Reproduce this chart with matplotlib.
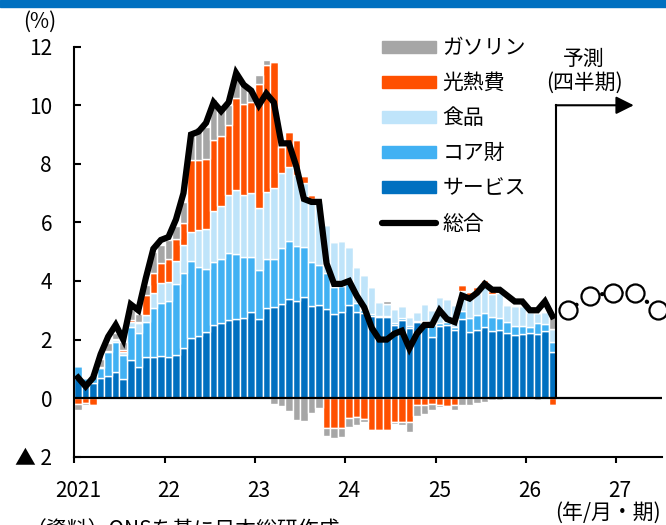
import numpy as np
import matplotlib
matplotlib.use("Agg")
import matplotlib.pyplot as plt
from matplotlib.patches import Patch, Rectangle
from matplotlib.lines import Line2D

plt.rcParams['font.family'] = ['Noto Sans CJK JP', 'DejaVu Sans']

# --- data: monthly contributions, 2021/1 - 2026/4 (%pt) ---
services = [0.68, 0.40, 0.51, 0.68, 0.76, 0.88, 0.65, 1.31, 1.08, 1.39, 1.42, 1.44,
            1.40, 1.48, 1.70, 2.05, 2.13, 2.25, 2.50, 2.58, 2.67, 2.69, 2.75, 2.95,
            2.69, 3.07, 3.10, 3.22, 3.38, 3.30, 3.44, 3.13, 3.18, 3.03, 2.88, 2.95,
            3.18, 2.93, 2.90, 2.80, 2.76, 2.76, 2.50, 2.67, 2.39, 2.60, 2.60, 2.10,
            2.47, 2.50, 2.33, 2.70, 2.27, 2.33, 2.44, 2.30, 2.31, 2.22, 2.16, 2.20,
            2.24, 2.20, 2.30, 1.59]
core_goods = [0.42, 0.28, 0.29, 0.34, 0.80, 1.05, 0.83, 1.13, 1.16, 1.22, 1.65, 1.82,
              1.90, 2.42, 2.58, 2.63, 2.36, 2.16, 2.16, 2.16, 2.30, 2.23, 2.08, 1.88,
              1.69, 1.67, 1.64, 1.89, 2.00, 1.89, 1.73, 1.53, 1.37, 1.25, 0.93, 0.88,
              0.74, 0.31, 0.10, 0.06, 0.04, 0.04, 0.05, 0.08, 0.06, 0.05, 0.05, 0.40,
              0.10, 0.10, 0.10, 0.28, 0.46, 0.51, 0.46, 0.46, 0.44, 0.39, 0.31, 0.28,
              0.20, 0.37, 0.23, 0.31]
food = [0.00, 0.02, 0.05, 0.05, 0.05, 0.05, 0.11, 0.17, 0.32, 0.23, 0.51, 0.66,
        0.68, 0.78, 0.94, 1.00, 1.25, 1.36, 1.74, 1.82, 1.96, 2.18, 2.10, 2.18,
        2.10, 2.31, 2.42, 2.58, 2.52, 2.42, 2.16, 2.14, 2.10, 1.63, 1.53, 1.53,
        1.25, 1.25, 1.20, 0.94, 0.47, 0.42, 0.48, 0.40, 0.33, 0.30, 0.55, 0.50,
        0.90, 0.78, 0.75, 0.69, 0.74, 0.76, 1.02, 0.80, 0.85, 0.57, 0.66, 0.66,
        0.51, 0.34, 0.40, 0.45]
energy = [-0.20, -0.17, -0.22, 0.00, 0.00, 0.03, 0.05, 0.06, 0.04, 0.68, 0.70, 0.68,
          0.76, 0.75, 0.77, 2.45, 2.39, 2.38, 2.41, 2.38, 2.39, 3.15, 3.13, 3.11,
          4.26, 4.31, 4.32, 0.90, 1.19, 1.20, 0.25, 0.15, 0.05, -1.02, -1.02, -1.02,
          -0.68, -0.65, -0.72, -1.08, -1.10, -1.10, -0.80, -0.80, -0.80, -0.22, -0.22, -0.20,
          -0.22, -0.28, -0.25, 0.18, 0.15, 0.20, 0.10, 0.10, 0.10, 0.00, 0.00, 0.00,
          0.00, 0.00, 0.00, -0.22]
gasoline = [-0.22, -0.05, 0.00, 0.25, 0.26, 0.20, 0.29, 0.33, 0.26, 0.35, 0.72, 0.63,
            0.66, 0.45, 0.71, 0.96, 1.13, 1.10, 1.39, 1.06, 0.68, 0.65, 0.68, 0.38,
            0.28, 0.17, -0.20, -0.28, -0.45, -0.74, -0.78, -0.50, -0.32, -0.26, -0.34, -0.31,
            -0.29, -0.28, -0.11, -0.05, 0.06, 0.10, -0.10, -0.12, -0.34, -0.40, -0.33, -0.20,
            -0.08, 0.00, -0.15, -0.23, -0.25, -0.16, -0.12, -0.07, -0.05, 0.00, 0.00, 0.00,
            0.00, -0.06, 0.00, 0.45]
headline = [0.7, 0.4, 0.7, 1.5, 2.1, 2.5, 2.0, 3.2, 3.0, 4.1, 5.1, 5.4,
            5.5, 6.1, 7.0, 9.0, 9.1, 9.4, 10.1, 9.8, 10.1, 11.1, 10.7, 10.5,
            10.0, 10.4, 10.1, 8.7, 8.7, 7.9, 6.8, 6.7, 6.7, 4.6, 3.9, 3.9,
            4.0, 3.5, 3.1, 2.4, 2.0, 2.0, 2.2, 2.3, 1.7, 2.2, 2.5, 2.5,
            3.0, 2.7, 2.6, 3.5, 3.4, 3.6, 3.9, 3.7, 3.7, 3.5, 3.3, 3.3,
            3.0, 3.0, 3.3, 2.8]

# quarterly forecast 2026Q3 - 2027Q3
fc_pos = [65.6, 68.5, 71.6, 74.5, 77.5]   # months since 2021/1
fc_vals = [3.0, 3.5, 3.6, 3.6, 3.0]

year_labels = ["2021", "22", "23", "24", "25", "26", "27"]
ytick_vals = [-2, 0, 2, 4, 6, 8, 10, 12]
ytick_labels = ["▲ 2", "0", "2", "4", "6", "8", "10", "12"]

series = [("サービス", services, "#0070C0"),
          ("コア財", core_goods, "#41B1F3"),
          ("食品", food, "#BFE4FA"),
          ("光熱費", energy, "#FF5000"),
          ("ガソリン", gasoline, "#A6A6A6")]

fig = plt.figure(figsize=(6.66, 5.25), dpi=100)
ax = fig.add_axes([74.3 / 666, 68.3 / 525, 587.7 / 666, 410 / 525])

x = np.arange(len(headline)) + 0.5
pos_base = np.zeros(len(x))
neg_base = np.zeros(len(x))
for name, vals, col in series:
    v = np.array(vals)
    p = np.clip(v, 0, None)
    n = np.clip(v, None, 0)
    ax.bar(x, p, bottom=pos_base, width=1.0, color=col, edgecolor="white", linewidth=1.0, zorder=2)
    ax.bar(x, n, bottom=neg_base, width=1.0, color=col, edgecolor="white", linewidth=1.0, zorder=2)
    pos_base += p
    neg_base += n

ax.plot(x, headline, color="black", lw=4.5, solid_joinstyle="miter", zorder=5)
ax.axhline(0, color="black", lw=1.6, zorder=4)

# forecast
ax.plot(fc_pos, fc_vals, color="black", lw=3, linestyle=(0, (0.1, 2.2)),
        dash_capstyle="round", zorder=5, clip_on=False)
ax.plot(fc_pos, fc_vals, "o", ms=13, mfc="white", mec="black", mew=1.6,
        zorder=6, clip_on=False)
ax.plot([64, 64], [0, 10.0], color="black", lw=1.5, zorder=5)
ax.annotate("", xy=(74.3, 10.0), xytext=(63.95, 10.0),
            arrowprops=dict(arrowstyle="-|>,head_length=0.4,head_width=0.2",
                            mutation_scale=27, lw=1.5, color="black",
                            shrinkA=0, shrinkB=0), zorder=5)
ax.text(67.7, 11.6, "予測", ha="center", va="center", fontsize=15)
ax.text(67.7, 10.76, "(四半期)", ha="center", va="center", fontsize=15)

ax.set_xlim(0, 78.05)
ax.set_ylim(-2, 12)
ax.set_yticks(ytick_vals)
ax.set_yticklabels(ytick_labels)
ax.set_xticks(np.arange(0, 73, 12))
ax.set_xticklabels([])
ax.set_xticks(np.arange(0, 73, 12) + 0.5, minor=True)
ax.set_xticklabels(year_labels, minor=True)
ax.tick_params(axis="y", direction="in", length=5, width=1.5, pad=16, labelsize=15)
ax.tick_params(axis="x", which="major", direction="out", length=4.5, width=1.5)
ax.tick_params(axis="x", which="minor", length=0, pad=17, labelsize=15)
for s in ["top", "right"]:
    ax.spines[s].set_visible(False)
ax.spines["left"].set_linewidth(1.5)
ax.spines["bottom"].set_linewidth(1.5)

handles = [Patch(color=c) for _, _, c in series[::-1]]
handles.append(Line2D([0], [0], color="black", lw=4.5, solid_capstyle="round"))
labels = [nm for nm, _, _ in series[::-1]] + ["総合"]
fig.legend(handles, labels, loc="upper left", bbox_to_anchor=(382 / 666, 1 - 37 / 525),
           frameon=False, fontsize=15, handlelength=2.6, handleheight=0.52,
           handletextpad=0.3, labelspacing=0.63, borderpad=0, borderaxespad=0)

fig.add_artist(Rectangle((0, 1 - 7 / 525), 1, 7 / 525, transform=fig.transFigure,
                         color="#0070C0", zorder=10))
fig.text(40 / 666, 1 - 22 / 525, "(%)", ha="center", va="center", fontsize=15)
fig.text(661 / 666, 1 - 513 / 525, "(年/月・期)", ha="right", va="center", fontsize=15)
fig.text(26 / 666, 1 - 519 / 525, "（資料）ONSを基に日本総研作成", ha="left", va="top", fontsize=15)

fig.savefig("out.png", dpi=100)
